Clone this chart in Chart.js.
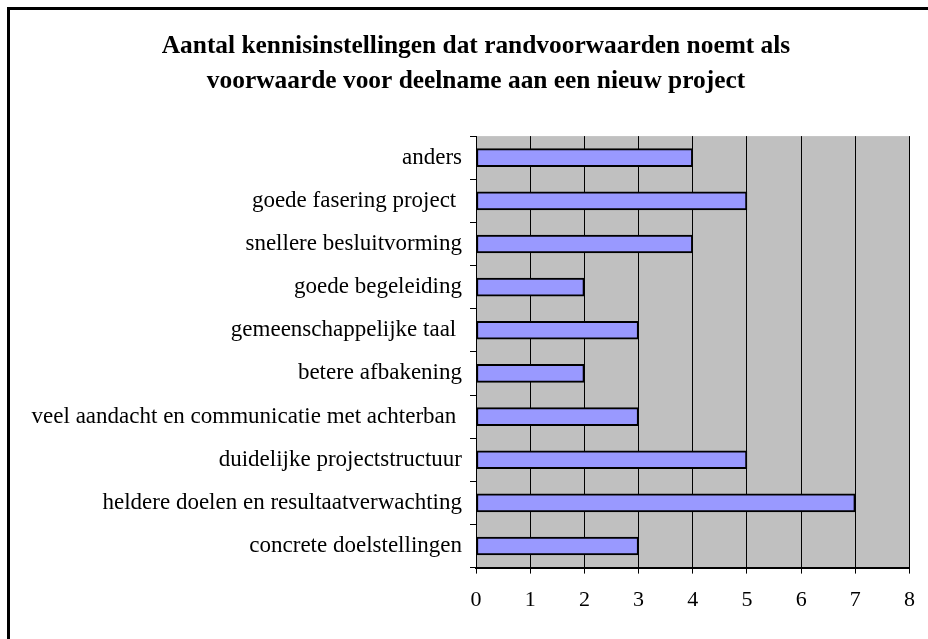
<!DOCTYPE html>
<html>
<head>
<meta charset="utf-8">
<script src="https://cdn.jsdelivr.net/npm/chart.js@4.4.1/dist/chart.umd.min.js"></script>
<style>
  html, body { margin: 0; padding: 0; background: #fff; overflow: hidden; }
  #frame {
    position: absolute; left: 7px; top: 7px;
    width: 1000px; height: 1000px;
    border: 3px solid #000;
  }
  #chart { position: absolute; left: 0; top: 0; }
</style>
</head>
<body>
<div id="frame"></div>
<canvas id="chart" width="928" height="639"></canvas>
<script>
const titleLines = [
  'Aantal kennisinstellingen dat randvoorwaarden noemt als',
  'voorwaarde voor deelname aan een nieuw project'
]

const categories = [
  'anders',
  'goede fasering project ',
  'snellere besluitvorming',
  'goede begeleiding',
  'gemeenschappelijke taal ',
  'betere afbakening',
  'veel aandacht en communicatie met achterban ',
  'duidelijke projectstructuur',
  'heldere doelen en resultaatverwachting',
  'concrete doelstellingen'
]

const counts = [4, 5, 4, 2, 3, 2, 3, 5, 7, 3]

const xTicks = [0, 1, 2, 3, 4, 5, 6, 7, 8]

const serif = '"Liberation Serif", "Times New Roman", serif'

// grey plot background, like the old spreadsheet charts
const plotBackground = {
  id: 'plotBackground',
  beforeDraw(chart) {
    const { ctx, chartArea } = chart
    ctx.save()
    ctx.fillStyle = '#c0c0c0'
    ctx.fillRect(chartArea.left, chartArea.top, chartArea.right - chartArea.left, chartArea.bottom - chartArea.top)
    ctx.restore()
  }
}

// the left padding only exists to centre the title; let the long
// category labels use that space again (labels are clipped to the scale box)
const widenLabels = {
  id: 'widenLabels',
  afterLayout(chart) {
    chart.scales.y.left = 0
  }
}

new Chart(document.getElementById('chart').getContext('2d'), {
  type: 'bar',
  data: {
    labels: categories,
    datasets: [
      {
        data: counts,
        backgroundColor: '#9999ff',
        borderColor: '#000',
        borderWidth: 2,
        borderSkipped: false,
        barThickness: 18
      }
    ]
  },
  plugins: [plotBackground, widenLabels],
  options: {
    indexAxis: 'y',
    responsive: false,
    animation: false,
    devicePixelRatio: 1,
    layout: {
      padding: { left: 42, right: 18, top: 0, bottom: 13 }
    },
    scales: {
      x: {
        min: xTicks[0],
        max: xTicks[xTicks.length - 1],
        afterBuildTicks(axis) {
          axis.ticks = xTicks.map(v => ({ value: v }))
        },
        grid: {
          color: '#000',
          lineWidth: 1,
          tickLength: 6
        },
        border: { color: '#000', width: 2 },
        ticks: {
          color: '#000',
          padding: 13,
          font: { family: serif, size: 22 }
        }
      },
      y: {
        afterFit(axis) {
          axis.width = 434
        },
        grid: {
          drawOnChartArea: false,
          color: '#000',
          tickLength: 6
        },
        border: { color: '#000', width: 1 },
        ticks: {
          color: '#000',
          padding: 8,
          font: { family: serif, size: 23 }
        }
      }
    },
    plugins: {
      legend: { display: false },
      tooltip: { enabled: false },
      title: {
        display: true,
        text: titleLines,
        color: '#000',
        font: { family: serif, size: 25.4, weight: 'bold', lineHeight: 1.38 },
        padding: { top: 29, bottom: 37 }
      }
    }
  }
})
</script>
</body>
</html>
